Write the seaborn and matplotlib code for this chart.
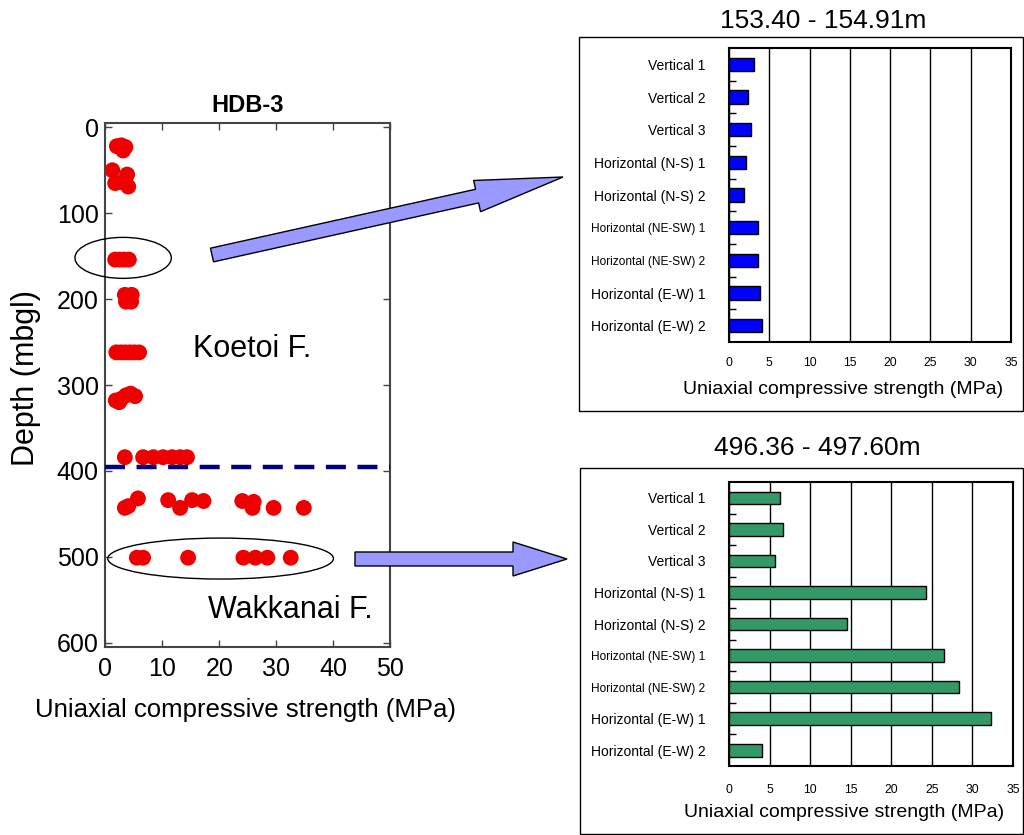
import matplotlib
matplotlib.use("Agg")
import matplotlib.pyplot as plt
import seaborn as sns
import pandas as pd
from matplotlib.patches import Ellipse, FancyArrow, Rectangle

# ---------------- data ----------------
hdb3_ucs = [2.0, 2.8, 3.5, 3.1,
            1.2, 3.8, 1.7, 2.9, 4.0,
            1.7, 2.5, 3.3, 4.1,
            3.4, 4.6, 3.6, 4.5,
            1.9, 2.7, 3.5, 4.3, 5.1, 5.9,
            1.8, 2.4, 2.8, 3.6, 4.4, 5.2,
            3.4, 6.6, 8.4, 10.1, 11.7, 13.1, 14.3,
            3.4, 4.0, 5.7, 11.0, 13.1, 15.2, 17.2, 24.0, 26.0, 25.8, 29.5, 34.8,
            5.5, 6.6, 14.5, 24.2, 26.3, 28.4, 32.5]
hdb3_depth = [22, 21, 23, 27,
              50, 55, 65, 64, 69,
              154, 154, 154, 154,
              195, 195, 203, 203,
              262, 262, 262, 262, 262, 262,
              318, 320, 316, 312, 310, 313,
              384, 384, 384, 384, 384, 384, 384,
              443, 441, 432, 434, 443, 434, 435, 435, 436, 443, 443, 443,
              501, 501, 501, 501, 501, 501, 501]
formation_boundary = 395

specimens = ["Vertical 1", "Vertical 2", "Vertical 3",
             "Horizontal (N-S) 1", "Horizontal (N-S) 2",
             "Horizontal (NE-SW) 1", "Horizontal (NE-SW) 2",
             "Horizontal (E-W) 1", "Horizontal (E-W) 2"]
ucs_153 = [3.1, 2.4, 2.7, 2.05, 1.9, 3.6, 3.6, 3.85, 4.1]
ucs_496 = [6.3, 6.7, 5.7, 24.3, 14.6, 26.5, 28.35, 32.3, 4.05]

# ---------------- style ----------------
sns.set_style("ticks")
plt.rcParams["font.family"] = ["Liberation Sans", "DejaVu Sans"]
plt.rcParams["text.color"] = "black"
plt.rcParams["axes.labelcolor"] = "black"
plt.rcParams["xtick.labelcolor"] = "black"
plt.rcParams["ytick.labelcolor"] = "black"

fig = plt.figure(figsize=(10.24, 8.35), dpi=100)

# ---------------- left: depth profile ----------------
ax = fig.add_axes([0.1030, 0.2251, 0.2783, 0.6276])
df = pd.DataFrame({"ucs": hdb3_ucs, "depth": hdb3_depth})
sns.scatterplot(data=df, x="ucs", y="depth", ax=ax, color="#ee0000",
                s=130, edgecolor="none", linewidth=0, zorder=3)
ax.set_xlim(0, 50)
ax.set_ylim(605, -5)
ax.set_xticks(range(0, 51, 10))
ax.set_yticks(range(0, 601, 100))
ax.tick_params(direction="in", top=True, right=True, length=5, width=1,
               color="#444444", labelsize=18, labelcolor="black")
ax.tick_params(axis="y", pad=5)
ax.tick_params(axis="x", pad=7)
for sp in ax.spines.values():
    sp.set_color("#444444")
    sp.set_linewidth(1.5)
ax.axhline(formation_boundary, color="#000080", lw=3.2,
           linestyle=(0, (4.5, 2.6)), zorder=4)
ax.add_patch(Ellipse((3.1, 152), 16.9, 47.7, fill=False, ec="black", lw=1,
                     clip_on=False, zorder=5))
ax.add_patch(Ellipse((20.2, 502), 39.6, 47.7, fill=False, ec="black", lw=1,
                     clip_on=False, zorder=5))
ax.text(25.8, 258, "Koetoi F.", fontsize=22, ha="center", va="center",
        color="black")
ax.text(32.5, 562, "Wakkanai F.", fontsize=22, ha="center", va="center",
        color="black")
ax.set_title("HDB-3", fontsize=17, fontweight="bold", pad=8, color="black")
ax.set_xlabel("Uniaxial compressive strength (MPa)", fontsize=18.5,
              color="black")
ax.set_ylabel("Depth (mbgl)", fontsize=22, color="black")
ax.xaxis.set_label_coords(0.49, -0.097)
ax.yaxis.set_label_coords(-0.225, 0.513)


# ---------------- right: bar panels ----------------
def bar_panel(rect, vals, color, tick_pad, title, title_xy):
    bx = fig.add_axes(rect)
    d = pd.DataFrame({"specimen": specimens, "ucs": vals})
    sns.barplot(data=d, x="ucs", y="specimen", orient="h", color=color,
                saturation=1, width=0.4, edgecolor="black", linewidth=1,
                ax=bx, zorder=3)
    bx.set_xlim(0, 35)
    bx.set_ylim(8.5, -0.5)
    bx.set_xticks(range(0, 36, 5))
    bx.xaxis.grid(True, color="black", lw=1)
    bx.set_axisbelow(True)
    bx.tick_params(axis="x", length=0, pad=tick_pad, labelsize=8.8,
                   labelcolor="black")
    bx.tick_params(axis="y", which="major", length=0, pad=17, labelsize=10,
                   labelcolor="black")
    bx.set_yticks([i + 0.5 for i in range(8)], minor=True)
    bx.tick_params(axis="y", which="minor", direction="in", length=5,
                   width=1, color="black")
    for lab in bx.get_yticklabels():
        if "NE-SW" in lab.get_text():
            lab.set_fontsize(8.6)
    for sp in bx.spines.values():
        sp.set_visible(True)
        sp.set_color("black")
        sp.set_linewidth(1.5)
    bx.set_ylabel("")
    bx.set_xlabel("Uniaxial compressive strength (MPa)", fontsize=14,
                  color="black")
    bx.xaxis.set_label_coords(0.405, -0.133)
    fig.text(title_xy[0] / 1024, 1 - title_xy[1] / 835, title, fontsize=19,
             ha="center", va="center", color="black")
    return bx


bar_panel([0.7119, 0.5904, 0.2754, 0.3521], ucs_153, "#0000ff", 11,
          "153.40 - 154.91m", (823, 21))
bar_panel([0.7119, 0.0826, 0.2773, 0.3401], ucs_496, "#339966", 13,
          "496.36 - 497.60m", (817, 448))

# panel frames
fig.add_artist(Rectangle((5.79, 4.24), 4.44, 3.74, fill=False, ec="black",
                         lw=1, transform=fig.dpi_scale_trans))
fig.add_artist(Rectangle((5.80, 0.01), 4.43, 3.66, fill=False, ec="black",
                         lw=1, transform=fig.dpi_scale_trans))

# arrows
fig.add_artist(FancyArrow(2.12, 5.80, 3.51, 0.78, width=0.14, head_width=0.32,
                          head_length=0.88, length_includes_head=True,
                          transform=fig.dpi_scale_trans, fc="#9999ff",
                          ec="black", lw=1))
fig.add_artist(FancyArrow(3.55, 2.76, 2.12, 0.0, width=0.14, head_width=0.34,
                          head_length=0.54, length_includes_head=True,
                          transform=fig.dpi_scale_trans, fc="#9999ff",
                          ec="black", lw=1))

fig.savefig("out.png", dpi=100)
